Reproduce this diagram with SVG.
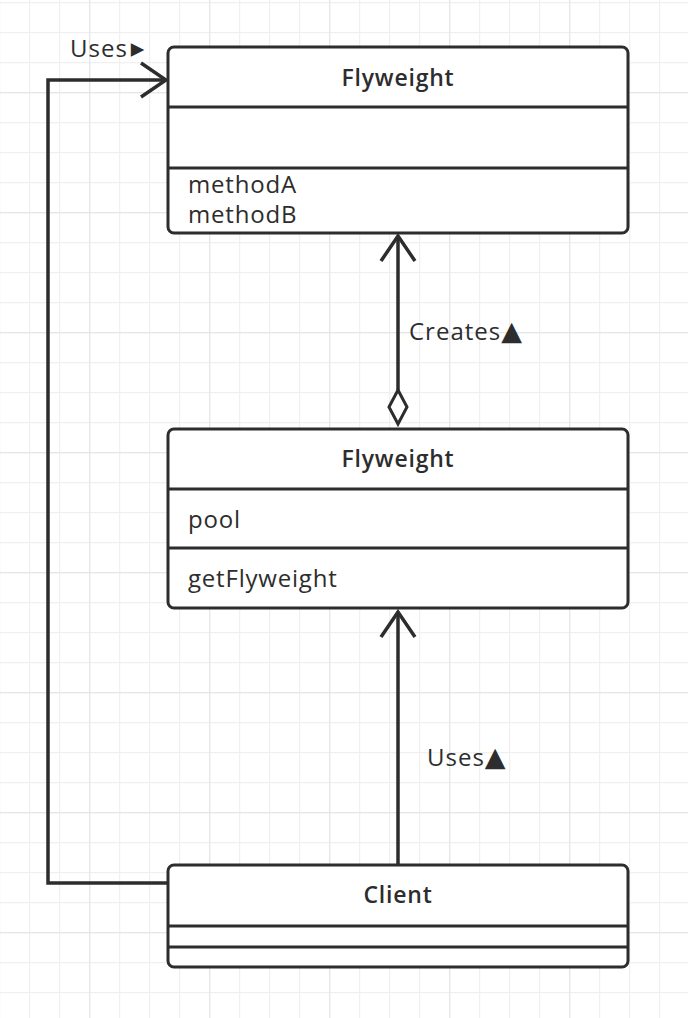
<svg xmlns="http://www.w3.org/2000/svg" width="688" height="1018" viewBox="0 0 688 1018">
<defs>
<pattern id="minor" width="30" height="30" patternUnits="userSpaceOnUse" x="-1" y="2">
<path d="M0 0.5H30M0.5 0V30" fill="none" stroke="#f0f0f0" stroke-width="1.5"/>
</pattern>
<pattern id="major" width="120" height="120" patternUnits="userSpaceOnUse" x="89" y="92">
<path d="M0 0.5H120M0.5 0V120" fill="none" stroke="#e6e6e6" stroke-width="1.5"/>
</pattern>
<marker id="open" viewBox="0 0 30 40" refX="27" refY="20" markerWidth="30" markerHeight="40" markerUnits="userSpaceOnUse" orient="auto">
<path d="M2 3L27 20L2 37" fill="none" stroke="#2d2d2d" stroke-width="3.5"/>
</marker>
</defs>
<style>
.box{fill:#fff;stroke:#2d2d2d;stroke-width:3}
.div{stroke:#2d2d2d;stroke-width:3}
.conn{fill:none;stroke:#2d2d2d;stroke-width:3.5}
.hd{font-family:"Open Sans","Liberation Sans",sans-serif;font-weight:600;font-size:23px;letter-spacing:0.8px;fill:#2d2d2d;text-anchor:middle}
.tx{font-family:"Open Sans","Liberation Sans",sans-serif;font-size:24px;letter-spacing:0.8px;fill:#2d2d2d}
.lb{font-family:"Open Sans","Liberation Sans",sans-serif;font-size:24px;letter-spacing:1px;fill:#2d2d2d}
.tri{font-family:"DejaVu Sans",sans-serif;font-size:27px;letter-spacing:0}
</style>
<rect width="688" height="1018" fill="#fff"/>
<rect width="688" height="1018" fill="url(#minor)"/>
<rect width="688" height="1018" fill="url(#major)"/>

<g id="connectors">
<path class="conn" d="M167 883H48V80H166" marker-end="url(#open)"/>
<path class="conn" d="M398 390V236" marker-end="url(#open)"/>
<path d="M398 390L407 407L398 424L389 407Z" fill="#fff" stroke="#2d2d2d" stroke-width="3"/>
<path class="conn" d="M398 865V612" marker-end="url(#open)"/>
<text class="lb" x="70" y="57">Uses<tspan class="tri" font-size="26px" dx="3">▸</tspan></text>
<text class="lb" x="409" y="340">Creates<tspan class="tri">▲</tspan></text>
<text class="lb" x="427" y="766">Uses<tspan class="tri">▲</tspan></text>
</g>

<g id="flyweight">
<rect class="box" x="168" y="47" width="460" height="186" rx="6"/>
<line class="div" x1="168" y1="107" x2="628" y2="107"/>
<line class="div" x1="168" y1="168" x2="628" y2="168"/>
<text class="hd" x="398" y="86">Flyweight</text>
<text class="tx" x="188" y="193">methodA</text>
<text class="tx" x="188" y="223">methodB</text>
</g>

<g id="flyweightFactory">
<rect class="box" x="168" y="429" width="460" height="179" rx="6"/>
<line class="div" x1="168" y1="489" x2="628" y2="489"/>
<line class="div" x1="168" y1="548" x2="628" y2="548"/>
<text class="hd" x="398" y="467">Flyweight</text>
<text class="tx" x="188" y="528">pool</text>
<text class="tx" x="188" y="587">getFlyweight</text>
</g>

<g id="client">
<rect class="box" x="168" y="865" width="460" height="102" rx="6"/>
<line class="div" x1="168" y1="926" x2="628" y2="926"/>
<line class="div" x1="168" y1="947" x2="628" y2="947"/>
<text class="hd" x="398" y="903">Client</text>
</g>
</svg>
